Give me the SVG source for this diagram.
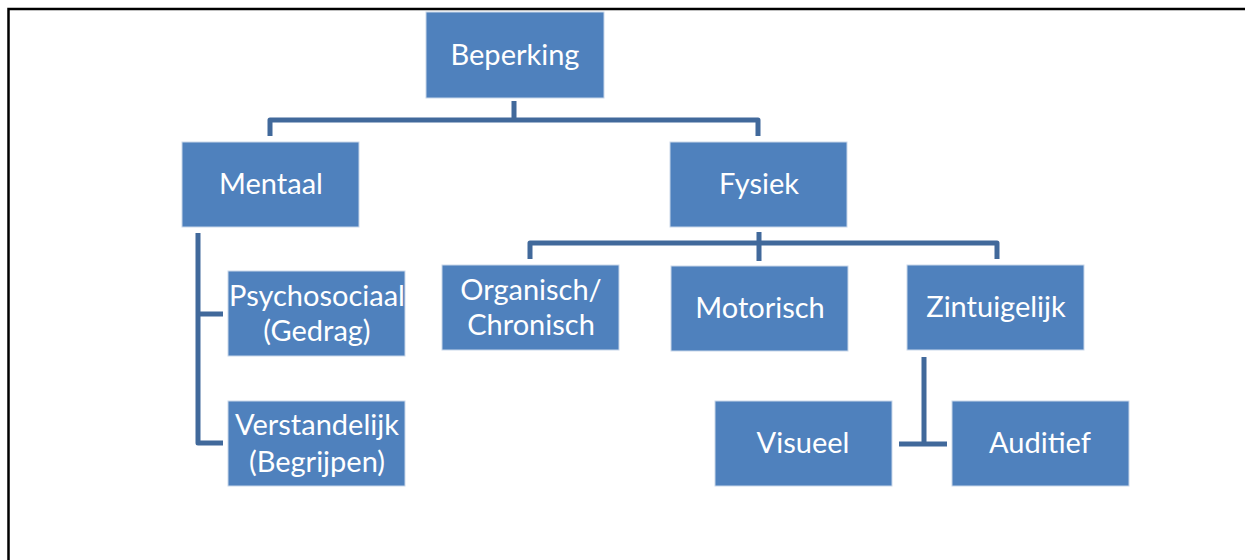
<svg xmlns="http://www.w3.org/2000/svg" width="1245" height="560" viewBox="0 0 1245 560">
<style>
.box{fill:#4F81BD;stroke:#C9D7EA;stroke-width:1}
.t{font-family:Lato,"Open Sans","Liberation Sans",sans-serif;font-size:29px;fill:#FFFFFF;text-anchor:middle}
.c{fill:none;stroke:#41699B;stroke-width:5;stroke-linejoin:round}
</style>
<rect width="1245" height="560" fill="#FFFFFF"/>
<path d="M8.5 560 V9 H1245" fill="none" stroke="#000000" stroke-width="2.5"/>
<g id="connectors">
<path class="c" d="M514 101 V120 M270 136 V120 H758 V136"/>
<path class="c" d="M759 232 V243 M530 259 V243 H997 V259 M759 243 V261"/>
<path class="c" d="M198 233 V443 H223 M198 314 H223"/>
<path class="c" d="M924 357 V444 M899 444 H947"/>
</g>
<g id="beperking"><rect class="box" x="426" y="12" width="178" height="86"/><text class="t" x="515" y="65">Beperking</text></g>
<g id="mentaal"><rect class="box" x="182" y="142" width="177" height="85"/><text class="t" x="271" y="194">Mentaal</text></g>
<g id="fysiek"><rect class="box" x="670" y="142" width="177" height="85"/><text class="t" x="759" y="194">Fysiek</text></g>
<g id="psychosociaal"><rect class="box" x="228" y="271" width="177" height="85"/><text class="t" x="317" y="306">Psychosociaal</text><text class="t" x="317" y="341">(Gedrag)</text></g>
<g id="verstandelijk"><rect class="box" x="228" y="401" width="177" height="85"/><text class="t" x="317" y="435">Verstandelijk</text><text class="t" x="317" y="472">(Begrijpen)</text></g>
<g id="organisch"><rect class="box" x="442" y="265" width="177" height="85"/><text class="t" x="531" y="300">Organisch/</text><text class="t" x="531" y="335">Chronisch</text></g>
<g id="motorisch"><rect class="box" x="671" y="266" width="177" height="85"/><text class="t" x="760" y="318">Motorisch</text></g>
<g id="zintuigelijk"><rect class="box" x="907" y="265" width="177" height="85"/><text class="t" x="996" y="317">Zintuigelijk</text></g>
<g id="visueel"><rect class="box" x="715" y="401" width="177" height="85"/><text class="t" x="803" y="453">Visueel</text></g>
<g id="auditief"><rect class="box" x="952" y="401" width="177" height="85"/><text class="t" x="1040" y="453">Auditief</text></g>
</svg>
